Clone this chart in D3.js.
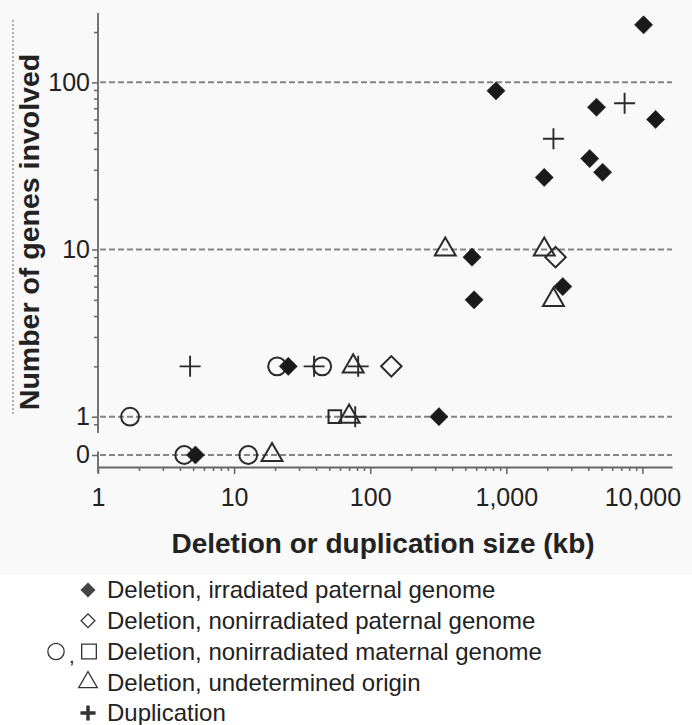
<html>
<head>
<meta charset="utf-8">
<style>
  body { margin: 0; background: #fff; }
  text { font-family: "Liberation Sans", Arial, sans-serif; fill: #222; }
</style>
</head>
<body>
<script src="https://d3js.org/d3.v7.min.js"></script>
<script>
// deletion / duplication size (kb) and number of genes (0 = no gene)
var irrPatSize   = [10200, 840, 4600, 12500, 4100, 5100, 1900, 560, 2600, 580, 320, 25, 5.2];
var irrPatGenes  = [221, 89, 71, 60, 35, 29, 27, 9, 6, 5, 1, 2, 0];
var nonPatSize   = [2300, 143];
var nonPatGenes  = [9, 2];
var matCircSize  = [1.72, 20.7, 44.4, 4.3, 12.7];
var matCircGenes = [1, 2, 2, 0, 0];
var matSqSize    = [55];
var matSqGenes   = [1];
var undetSize    = [356, 1900, 2220, 75, 70, 19];
var undetGenes   = [10, 10, 5, 2, 1, 0];
var dupSize      = [7400, 2220, 4.75, 38.7, 81.6, 77.6];
var dupGenes     = [75, 46, 2, 2, 2, 1];

var xTicks = [1, 10, 100, 1000, 10000];
var yTicks = [0, 1, 10, 100];
var legendLabels = ["Deletion, irradiated paternal genome",
                    "Deletion, nonirradiated paternal genome",
                    "Deletion, nonirradiated maternal genome",
                    "Deletion, undetermined origin",
                    "Duplication"];

var w = 692, h = 725;
var zeroAt = 0.59;   // where the "0" row sits on the broken log axis

var svg = d3.select("body").append("svg")
            .attr("width", w)
            .attr("height", h);

svg.append("rect").attr("x", 0).attr("y", 0).attr("width", w).attr("height", 575)
   .attr("fill", "#f9f9f9");

var x = d3.scaleLog().domain([1, 16500]).range([98, 672]);
var y = d3.scaleLog().domain([0.5, 260]).range([467, 13]);
function yv(v) { return v === 0 ? y(zeroAt) : y(v); }

// dashed grid lines
svg.selectAll("line.grid")
   .data(yTicks)
   .enter().append("line")
   .attr("class", "grid")
   .attr("x1", x(1) + 2).attr("x2", x(16500))
   .attr("y1", function(d) { return yv(d); })
   .attr("y2", function(d) { return yv(d); })
   .attr("stroke", "#858585")
   .attr("stroke-width", 2)
   .attr("stroke-dasharray", "6,3");

// x axis
var minorX = [];
for (var k = 1; k <= 10000; k *= 10) for (var m = 2; m <= 9; m++) if (k * m < 16500) minorX.push(k * m);

var xMinor = svg.append("g")
   .attr("transform", "translate(0," + y(0.5) + ")")
   .call(d3.axisBottom(x).tickValues(minorX).tickFormat("").tickSize(4).tickSizeOuter(0));
var xMajor = svg.append("g")
   .attr("transform", "translate(0," + y(0.5) + ")")
   .call(d3.axisBottom(x).tickValues(xTicks).tickFormat(d3.format(",")).tickSize(7).tickSizeOuter(0).tickPadding(14));
xMajor.selectAll("text").style("font-size", "25px").attr("fill", "#222");
[xMinor, xMajor].forEach(function(g) {
  g.selectAll("line").attr("stroke", "#666").attr("stroke-width", 1.5);
  g.select(".domain").attr("stroke", "#666").attr("stroke-width", 1.8);
});
xMinor.select(".domain").remove();

// y axis (broken between 1 and 0)
var minorY = [0.9, 2, 3, 4, 5, 6, 7, 8, 9, 20, 30, 40, 50, 60, 70, 80, 90, 200];
var yMinor = svg.append("g")
   .attr("transform", "translate(" + x(1) + ",0)")
   .call(d3.axisLeft(y).tickValues(minorY).tickFormat("").tickSize(4).tickSizeOuter(0));
var yMajor = svg.append("g")
   .attr("transform", "translate(" + x(1) + ",0)")
   .call(d3.axisLeft(y).tickValues([zeroAt, 1, 10, 100])
         .tickFormat(function(d) { return d === zeroAt ? "0" : d; })
         .tickSize(6).tickSizeOuter(0).tickPadding(2));
yMajor.selectAll("text").style("font-size", "25px").attr("fill", "#222");
[yMinor, yMajor].forEach(function(g) {
  g.select(".domain").remove();
  g.selectAll("line").attr("stroke", "#666").attr("stroke-width", 1.5);
});
svg.append("line")
   .attr("x1", x(1)).attr("x2", x(1)).attr("y1", y(260)).attr("y2", y(0.8))
   .attr("stroke", "#666").attr("stroke-width", 1.8);
svg.append("line")
   .attr("x1", x(1)).attr("x2", x(1)).attr("y1", y(0.62)).attr("y2", y(0.46))
   .attr("stroke", "#666").attr("stroke-width", 1.8);

// axis titles
svg.append("text")
   .attr("x", 383).attr("y", 553)
   .attr("text-anchor", "middle")
   .style("font-size", "28px").style("font-weight", "bold")
   .text("Deletion or duplication size (kb)");
svg.append("text")
   .attr("transform", "translate(39,232) rotate(-90)")
   .attr("text-anchor", "middle")
   .style("font-size", "28.5px").style("font-weight", "bold")
   .text("Number of genes involved");
svg.append("line")
   .attr("x1", 13).attr("x2", 13).attr("y1", 20).attr("y2", 415)
   .attr("stroke", "#666").attr("stroke-width", 1).attr("stroke-dasharray", "2,2");

// symbols
var plus = {
  draw: function(ctx, size) {
    var r = Math.sqrt(size) / 2;
    ctx.moveTo(-r, 0); ctx.lineTo(r, 0);
    ctx.moveTo(0, -r); ctx.lineTo(0, r);
  }
};

function pairs(sz, gn) { return sz.map(function(s, i) { return { s: s, g: gn[i] }; }); }

function drawSeries(data, type, size, fill, rot, sw) {
  svg.append("g").selectAll("path")
     .data(data)
     .enter().append("path")
     .attr("d", d3.symbol().type(type).size(size))
     .attr("transform", function(d) {
        return "translate(" + x(d.s) + "," + yv(d.g) + ")" + (rot ? " rotate(45)" : "");
     })
     .attr("fill", fill)
     .attr("stroke", "#2a2a2a")
     .attr("stroke-width", sw);
}

drawSeries(pairs(matCircSize, matCircGenes), d3.symbolCircle, 250, "none", false, 2);
drawSeries(pairs(matSqSize, matSqGenes), d3.symbolSquare, 160, "none", false, 2);
drawSeries(pairs(undetSize, undetGenes), d3.symbolTriangle, 190, "none", false, 2);
drawSeries(pairs(nonPatSize, nonPatGenes), d3.symbolSquare, 210, "none", true, 2);
drawSeries(pairs(irrPatSize, irrPatGenes), d3.symbolSquare, 165, "#1a1a1a", true, 0.6);
drawSeries(pairs(dupSize, dupGenes), plus, 441, "none", false, 1.9);

// legend
var legY = d3.scalePoint().domain(d3.range(legendLabels.length)).range([590, 713]);
var lg = svg.append("g");
lg.selectAll("text")
  .data(legendLabels)
  .enter().append("text")
  .attr("x", 107)
  .attr("y", function(d, i) { return legY(i); })
  .attr("dy", "0.35em")
  .style("font-size", "24px")
  .text(function(d) { return d; });

function legSym(type, size, cx, i, fill, rot, sw) {
  lg.append("path")
    .attr("d", d3.symbol().type(type).size(size))
    .attr("transform", "translate(" + cx + "," + legY(i) + ")" + (rot ? " rotate(45)" : ""))
    .attr("fill", fill)
    .attr("stroke", "#333")
    .attr("stroke-width", sw);
}
legSym(d3.symbolSquare, 105, 88, 0, "#444", true, 0.5);
legSym(d3.symbolSquare, 95, 88, 1, "none", true, 1.3);
legSym(d3.symbolCircle, 210, 56, 2, "none", false, 1.3);
legSym(d3.symbolSquare, 215, 89, 2, "none", false, 1.3);
legSym(d3.symbolTriangle, 150, 88, 3, "none", false, 1.3);
legSym(plus, 230, 88, 4, "none", false, 3.5);
lg.append("text").attr("x", 69).attr("y", legY(2)).attr("dy", "0.55em")
  .style("font-size", "20px").text(",");
</script>
</body>
</html>
